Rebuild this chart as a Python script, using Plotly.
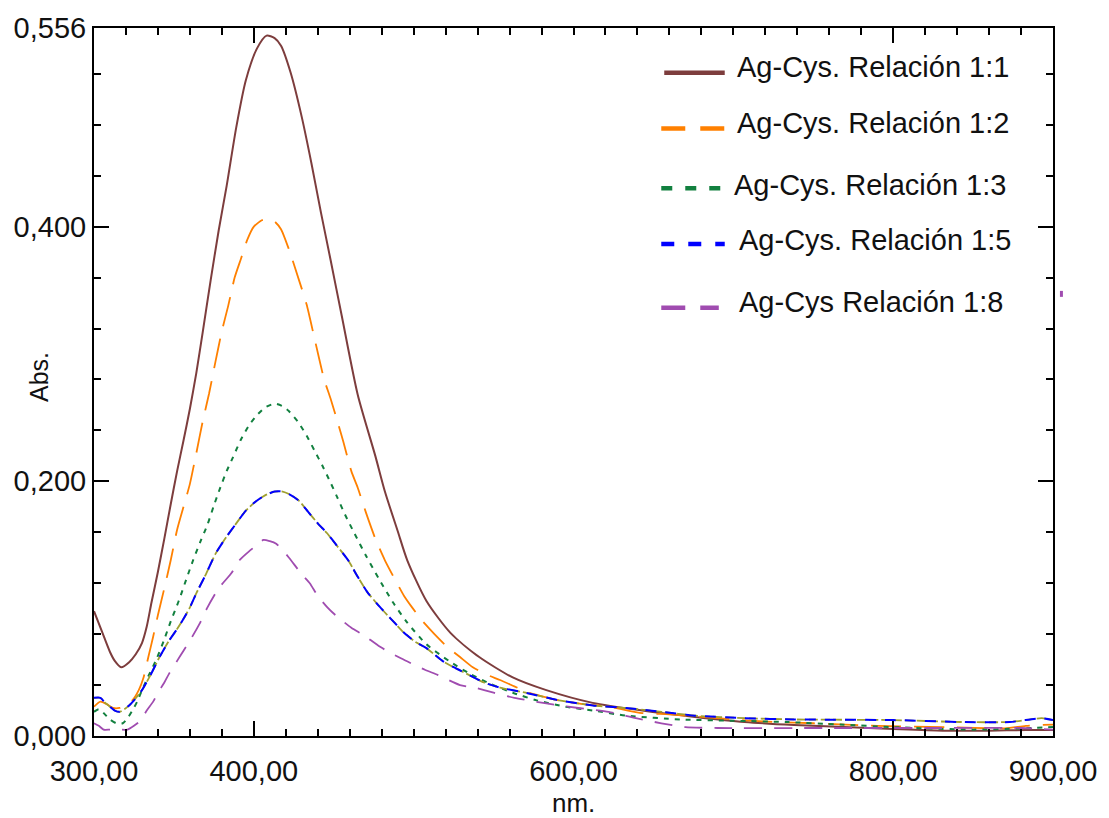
import plotly.graph_objects as go

# ---------------- data ----------------
x_11 = [300, 305, 310, 313, 317, 322, 326, 330, 333, 336, 340, 344, 348, 352, 356, 360, 364,
        368, 373, 378, 383, 389, 395, 402, 408, 413, 417, 423, 430, 436, 442, 448, 455, 465,
        476, 482, 490, 496, 508, 523, 541, 562, 583, 612, 643, 676, 707, 738, 769, 800, 831,
        860, 883, 900]
y_11 = [0.098, 0.082, 0.066, 0.059, 0.054, 0.058, 0.064, 0.073, 0.086, 0.105, 0.129, 0.155,
        0.182, 0.208, 0.232, 0.257, 0.285, 0.317, 0.358, 0.397, 0.432, 0.478, 0.515, 0.540,
        0.550, 0.548, 0.542, 0.521, 0.486, 0.450, 0.411, 0.374, 0.330, 0.268, 0.220, 0.192,
        0.161, 0.138, 0.106, 0.081, 0.062, 0.046, 0.036, 0.026, 0.020, 0.015, 0.011, 0.0086,
        0.0070, 0.0055, 0.0042, 0.0042, 0.0047, 0.0047]

x_12 = [300, 304, 308, 312, 316, 320, 324, 328, 331, 334, 337, 340, 344, 348, 352, 356, 360,
        364, 368, 372, 376, 380, 384, 388, 392, 396, 400, 405, 409, 413, 417, 422, 428, 433,
        438, 444, 448, 453, 456, 461, 465, 470, 476, 482, 487, 494, 499, 505, 513, 521, 529,
        537, 546, 554, 563, 572, 581, 591, 606, 622, 643, 660, 680, 700, 725, 750, 790, 833,
        870, 883, 900]
y_12 = [0.023, 0.027, 0.025, 0.022, 0.022, 0.024, 0.028, 0.036, 0.046, 0.062, 0.078, 0.095,
        0.116, 0.138, 0.162, 0.180, 0.198, 0.222, 0.247, 0.269, 0.294, 0.318, 0.338, 0.360,
        0.375, 0.390, 0.400, 0.405, 0.406, 0.404, 0.398, 0.382, 0.359, 0.339, 0.312, 0.280,
        0.265, 0.244, 0.231, 0.208, 0.195, 0.176, 0.155, 0.138, 0.126, 0.110, 0.101, 0.091,
        0.080, 0.070, 0.062, 0.054, 0.048, 0.044, 0.039, 0.034, 0.031, 0.028, 0.025, 0.023,
        0.018, 0.017, 0.015, 0.013, 0.011, 0.010, 0.008, 0.007, 0.006, 0.008, 0.009]

x_13 = [300, 303, 306, 310, 314, 318, 321, 324, 327, 330, 334, 339, 344, 348, 353, 358, 362,
        367, 371, 375, 379, 383, 387, 392, 397, 402, 407, 413, 418, 422, 428, 433, 438, 443,
        448, 452, 457, 463, 470, 478, 487, 496, 508, 522, 535, 548, 562, 577, 595, 612, 633,
        667, 700, 733, 767, 800, 850, 880, 900]
y_13 = [0.019, 0.021, 0.018, 0.013, 0.010, 0.010, 0.014, 0.020, 0.027, 0.036, 0.047, 0.060,
        0.076, 0.090, 0.106, 0.124, 0.138, 0.154, 0.166, 0.181, 0.195, 0.208, 0.219, 0.233,
        0.244, 0.252, 0.258, 0.261, 0.259, 0.255, 0.246, 0.236, 0.224, 0.212, 0.199, 0.188,
        0.174, 0.159, 0.142, 0.124, 0.105, 0.089, 0.072, 0.059, 0.049, 0.041, 0.034, 0.028,
        0.023, 0.020, 0.016, 0.013, 0.012, 0.011, 0.009, 0.007, 0.005, 0.006, 0.007]

x_15 = [300, 304, 307, 310, 313, 316, 319, 322, 325, 330, 335, 341, 347, 352, 356, 360, 364,
        370, 376, 381, 389, 395, 401, 407, 413, 418, 422, 428, 434, 440, 446, 451, 459, 465,
        471, 477, 482, 488, 494, 501, 508, 518, 525, 533, 544, 554, 570, 591, 612, 633, 655,
        676, 707, 738, 800, 842, 873, 893, 900]
y_15 = [0.030, 0.030, 0.026, 0.023, 0.020, 0.019, 0.021, 0.024, 0.028, 0.036, 0.047, 0.062,
        0.075, 0.084, 0.092, 0.101, 0.112, 0.127, 0.143, 0.153, 0.167, 0.177, 0.184, 0.189,
        0.192, 0.192, 0.190, 0.185, 0.176, 0.167, 0.159, 0.151, 0.138, 0.125, 0.113, 0.104,
        0.097, 0.089, 0.081, 0.074, 0.069, 0.059, 0.054, 0.049, 0.042, 0.038, 0.034, 0.028,
        0.024, 0.022, 0.019, 0.016, 0.014, 0.013, 0.0125, 0.011, 0.011, 0.014, 0.0125]

x_18 = [300, 303, 306, 310, 316, 321, 325, 329, 333, 337, 340, 344, 347, 352, 356, 361, 366,
        371, 378, 386, 391, 397, 402, 406, 410, 414, 418, 422, 430, 435, 440, 446, 451, 461,
        469, 479, 492, 507, 515, 529, 538, 550, 563, 581, 603, 622, 639, 655, 670, 690, 760,
        830, 880, 900]
y_18 = [0.010, 0.008, 0.005, 0.005, 0.005, 0.005, 0.008, 0.012, 0.020, 0.027, 0.034, 0.042,
        0.049, 0.059, 0.067, 0.077, 0.088, 0.101, 0.116, 0.128, 0.138, 0.145, 0.150, 0.154,
        0.153, 0.151, 0.146, 0.140, 0.127, 0.120, 0.110, 0.101, 0.095, 0.085, 0.079, 0.070,
        0.061, 0.052, 0.048, 0.040, 0.038, 0.034, 0.030, 0.026, 0.022, 0.019, 0.014, 0.010,
        0.007, 0.0063, 0.0063, 0.0063, 0.0063, 0.005]

series_names = ["Ag-Cys. Relación 1:1", "Ag-Cys. Relación 1:2", "Ag-Cys. Relación 1:3",
                "Ag-Cys. Relación 1:5", "Ag-Cys Relación 1:8"]

x_ticks = [300, 400, 600, 800, 900]
x_major_long = [400, 800]
y_ticks = [0.0, 0.2, 0.4, 0.556]
y_major_long = [0.2, 0.4]

# ---------------- styles ----------------
C_BROWN = "#7D3D3D"
C_ORANGE = "#FF8000"
C_GREEN = "#12803F"
C_BLUE = "#0000FF"
C_PURPLE = "#A04CB0"
C_OLIVE = "#A0A030"
FONT = "Liberation Sans, Arial, sans-serif"

W, H = 1109, 818
L, R, T, B = 94, 1061, 25, 736


def px(xp):
    return (xp - L) / (R - L)


def py(yp):
    return (B - yp) / (B - T)


fig = go.Figure()

fig.add_trace(go.Scatter(x=x_11, y=y_11, mode="lines", name=series_names[0],
                         line=dict(color=C_BROWN, width=2, shape="spline", smoothing=0.7)))
fig.add_trace(go.Scatter(x=x_12, y=y_12, mode="lines", name=series_names[1],
                         line=dict(color=C_ORANGE, width=1.8, dash="30px,13px",
                                   shape="spline", smoothing=0.6)))
fig.add_trace(go.Scatter(x=x_13, y=y_13, mode="lines", name=series_names[2],
                         line=dict(color=C_GREEN, width=2, dash="5px,6px",
                                   shape="spline", smoothing=0.6)))
fig.add_trace(go.Scatter(x=x_15, y=y_15, mode="lines", name="olive",
                         line=dict(color=C_OLIVE, width=1.8, dash="9px,3px",
                                   shape="spline", smoothing=0.6)))
fig.add_trace(go.Scatter(x=x_15, y=y_15, mode="lines", name=series_names[3],
                         line=dict(color=C_BLUE, width=2, dash="11px,9px",
                                   shape="spline", smoothing=0.6)))
fig.add_trace(go.Scatter(x=x_18, y=y_18, mode="lines", name=series_names[4],
                         line=dict(color=C_PURPLE, width=1.8, dash="18px,12px",
                                   shape="spline", smoothing=0.6)))

# helper traces for the long (major) ticks drawn by overlaid axes
fig.add_trace(go.Scatter(x=[None], y=[None], xaxis="x2", yaxis="y", showlegend=False,
                         hoverinfo="skip"))
fig.add_trace(go.Scatter(x=[None], y=[None], xaxis="x", yaxis="y2", showlegend=False,
                         hoverinfo="skip"))

tickfont = dict(family=FONT, size=29, color="#111111")

fig.update_layout(
    width=W, height=H,
    margin=dict(l=L, r=W - R, t=T, b=H - B, pad=0),
    paper_bgcolor="white", plot_bgcolor="white",
    showlegend=False,
    separators=",.",
    xaxis=dict(range=[300, 900], tickvals=x_ticks, tickformat=".2f",
               ticks="inside", ticklen=7, tickwidth=2, tickcolor="black",
               showline=True, linewidth=2, linecolor="black", mirror="ticks",
               showgrid=False, zeroline=False, tickfont=tickfont,
               ticklabelstandoff=8,
               minor=dict(dtick=20, tick0=300, ticks="inside", ticklen=7,
                          tickwidth=2, tickcolor="black", showgrid=False)),
    xaxis2=dict(range=[300, 900], overlaying="x", anchor="y", side="bottom",
                tickvals=x_major_long, showticklabels=False,
                ticks="inside", ticklen=15, tickwidth=2, tickcolor="black",
                showline=True, linewidth=2, linecolor="black", mirror="ticks",
                showgrid=False, zeroline=False),
    yaxis=dict(range=[0, 0.556], tickvals=y_ticks, tickformat=".3f",
               ticks="inside", ticklen=7, tickwidth=2, tickcolor="black",
               showline=True, linewidth=2, linecolor="black", mirror="ticks",
               showgrid=False, zeroline=False, tickfont=tickfont,
               minor=dict(dtick=0.04, tick0=0, ticks="inside", ticklen=7,
                          tickwidth=2, tickcolor="black", showgrid=False)),
    yaxis2=dict(range=[0, 0.556], overlaying="y", anchor="x", side="left",
                tickvals=y_major_long, showticklabels=False,
                ticks="inside", ticklen=15, tickwidth=2, tickcolor="black",
                showline=True, linewidth=2, linecolor="black", mirror="ticks",
                showgrid=False, zeroline=False),
)

# axis titles
fig.add_annotation(text="Abs.", x=px(38), y=py(375), xref="paper", yref="paper",
                   xanchor="center", yanchor="middle",
                   showarrow=False, textangle=-90, font=dict(family=FONT, size=25, color="#111111"))
fig.add_annotation(text="nm.", x=px(578), y=py(803), xref="paper", yref="paper",
                   xanchor="center", yanchor="middle",
                   showarrow=False, font=dict(family=FONT, size=26, color="#111111"))

# manual legend
legend_rows = [
    (C_BROWN, "solid", 669, 730, 70, 740, 64),
    (C_ORANGE, "24px,15px", 666, 730, 126, 740, 120),
    (C_GREEN, "11px,13px", 666, 730, 186, 737, 183),
    (C_BLUE, "13px,14px", 666, 730, 242, 742, 238),
    (C_PURPLE, "24px,15px", 666, 724, 306, 742, 300),
]
for (col, dash, lx0, lx1, ly, tx, ty), name in zip(legend_rows, series_names):
    fig.add_shape(type="line", xref="paper", yref="paper",
                  x0=px(lx0), x1=px(lx1), y0=py(ly), y1=py(ly),
                  line=dict(color=col, width=4.5, dash=dash))
    fig.add_annotation(text=name, x=px(tx), y=py(ty), xref="paper", yref="paper",
                       xanchor="left", yanchor="middle", showarrow=False,
                       font=dict(family=FONT, size=29, color="#111111"))

# small stray mark to the right of the frame
fig.add_shape(type="rect", xref="paper", yref="paper",
              x0=px(1068), x1=px(1071), y0=py(295), y1=py(289),
              line=dict(width=0), fillcolor=C_PURPLE)

fig.write_html("out.html")
